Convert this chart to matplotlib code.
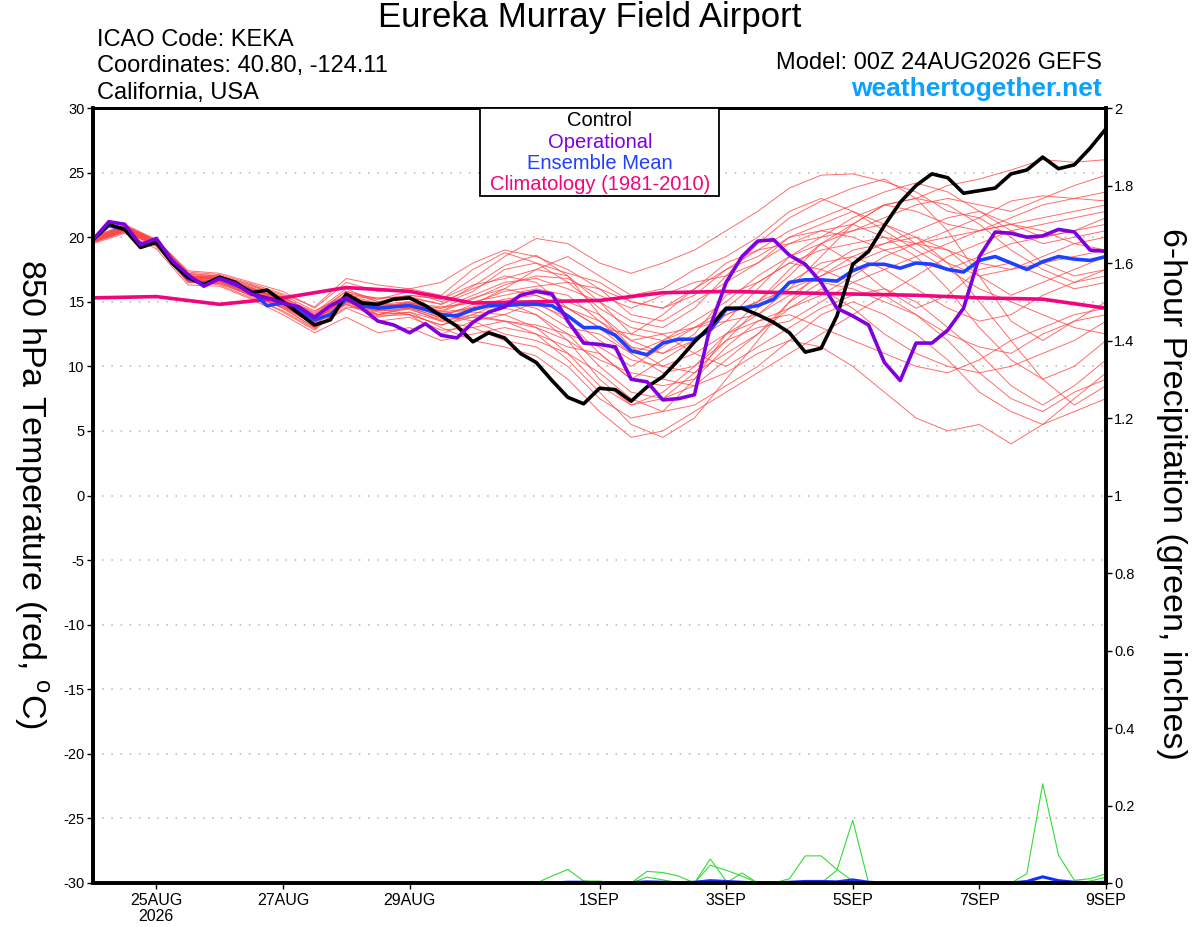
import numpy as np
import matplotlib
matplotlib.use("Agg")
import matplotlib.pyplot as plt
from matplotlib.patches import Rectangle

plt.rcParams['font.family'] = ['Liberation Sans', 'DejaVu Sans']
plt.rcParams['mathtext.fontset'] = 'custom'
plt.rcParams['mathtext.rm'] = 'Liberation Sans'

# ---------------- data ----------------
# 6-hourly steps from 00Z 24AUG2026 (index 0) to 00Z 09SEP2026 (index 64)
steps6 = list(range(65))
steps12 = list(range(0, 65, 2))
steps24 = list(range(0, 65, 4))

tick_steps = [4, 12, 20, 32, 40, 48, 56, 64]
tick_labels = ['25AUG\n2026', '27AUG', '29AUG', '1SEP', '3SEP', '5SEP', '7SEP', '9SEP']

temp_ticks = [-30, -25, -20, -15, -10, -5, 0, 5, 10, 15, 20, 25, 30]
precip_ticks = [0, 0.2, 0.4, 0.6, 0.8, 1.0, 1.2, 1.4, 1.6, 1.8, 2.0]
precip_tick_labels = ['0', '0.2', '0.4', '0.6', '0.8', '1', '1.2', '1.4', '1.6', '1.8', '2']

control = [19.8, 21.0, 20.6, 19.2, 19.6, 18.0, 16.9, 16.3, 16.9, 16.5, 15.7, 15.9, 15.0,
           14.1, 13.2, 13.6, 15.6, 14.9, 14.8, 15.2, 15.3, 14.7, 13.9, 13.1, 11.9, 12.6,
           12.2, 11.0, 10.3, 8.9, 7.6, 7.1, 8.3, 8.2, 7.3, 8.4, 9.2, 10.5, 11.9, 13.1,
           14.5, 14.5, 14.0, 13.4, 12.6, 11.1, 11.4, 13.9, 17.9, 18.9, 20.9, 22.7, 24.0,
           24.9, 24.6, 23.4, 23.6, 23.8, 24.9, 25.2, 26.2, 25.3, 25.6, 26.9, 28.4]

operational = [19.8, 21.2, 21.0, 19.4, 19.9, 18.2, 17.1, 16.2, 16.8, 16.4, 15.6, 15.3, 14.9,
               14.6, 13.8, 14.7, 15.3, 14.5, 13.5, 13.2, 12.6, 13.3, 12.4, 12.2, 13.4, 14.2,
               14.6, 15.5, 15.8, 15.6, 13.5, 11.8, 11.7, 11.5, 9.0, 8.8, 7.4, 7.5, 7.8, 13.1,
               16.5, 18.5, 19.7, 19.8, 18.6, 17.9, 16.5, 14.5, 13.9, 13.2, 10.3, 8.9, 11.8,
               11.8, 12.8, 14.5, 18.5, 20.4, 20.3, 20.0, 20.1, 20.6, 20.4, 19.0, 18.9]

ens_mean = [19.8, 20.9, 20.6, 19.5, 19.6, 18.0, 16.8, 16.4, 16.8, 16.3, 15.8, 14.7, 14.9,
            14.4, 13.6, 14.0, 15.2, 14.7, 14.5, 14.6, 14.7, 14.4, 14.0, 13.9, 14.4, 14.7,
            14.7, 14.8, 14.8, 14.7, 13.9, 13.0, 13.0, 12.4, 11.2, 10.9, 11.8, 12.1, 12.1,
            12.8, 14.4, 14.5, 14.7, 15.2, 16.5, 16.7, 16.7, 16.6, 17.4, 17.9, 17.9, 17.6,
            18.0, 17.9, 17.5, 17.3, 18.2, 18.5, 18.0, 17.5, 18.1, 18.5, 18.3, 18.2, 18.5]

climatology = [15.3, 15.4, 14.8, 15.3, 16.1, 15.8, 14.9, 15.0, 15.1, 15.7, 15.8, 15.7,
               15.6, 15.5, 15.3, 15.2, 14.5]

# 12-hourly ensemble members (850 hPa temperature, C)
member_01 = [19.9, 20.9, 19.6, 17.0, 16.9, 16.2, 15.4, 14.0, 15.8, 15.0, 15.5, 15.2, 16.8, 18.5, 19.9, 19.5, 18.0, 17.2, 18.0, 19.0, 20.5, 22.0, 23.8, 24.8, 24.9, 24.3, 23.5, 22.0, 21.5, 22.8, 23.2, 23.0, 22.8]
member_02 = [19.7, 20.5, 19.3, 16.6, 16.5, 15.6, 14.5, 13.0, 14.8, 13.8, 14.2, 13.0, 12.0, 11.5, 10.8, 9.0, 6.5, 4.5, 5.0, 6.5, 8.0, 9.5, 11.0, 12.5, 14.0, 15.5, 17.0, 18.5, 19.5, 20.5, 21.0, 21.5, 22.0]
member_03 = [19.8, 20.7, 19.7, 17.2, 16.8, 16.0, 15.2, 13.8, 15.4, 14.6, 14.8, 14.5, 15.5, 16.5, 16.8, 16.0, 15.0, 13.5, 13.0, 14.5, 17.0, 19.5, 21.5, 22.8, 23.8, 24.5, 23.0, 20.5, 17.0, 13.5, 12.0, 13.5, 15.0]
member_04 = [19.6, 20.4, 19.4, 16.5, 16.6, 15.4, 14.2, 12.8, 15.0, 14.2, 14.0, 12.5, 13.5, 14.0, 15.0, 13.5, 11.0, 9.0, 10.5, 12.0, 14.0, 15.0, 17.5, 19.5, 21.0, 22.5, 23.0, 24.0, 24.5, 25.2, 26.0, 25.8, 26.0]
member_05 = [20.0, 21.0, 19.8, 17.4, 17.2, 16.5, 15.8, 14.5, 16.5, 15.8, 16.0, 15.5, 17.5, 18.8, 18.0, 16.5, 14.5, 13.0, 12.5, 11.0, 10.0, 11.5, 13.0, 14.5, 15.5, 16.0, 15.0, 13.0, 11.0, 8.5, 7.0, 8.5, 10.5]
member_06 = [19.5, 20.3, 19.1, 16.3, 16.2, 15.2, 14.0, 12.6, 13.8, 12.6, 13.0, 12.0, 12.5, 13.0, 12.5, 10.5, 8.0, 5.5, 4.5, 6.0, 9.0, 12.0, 15.0, 17.5, 19.0, 19.5, 20.0, 19.0, 18.0, 17.5, 18.0, 18.5, 19.0]
member_07 = [19.8, 20.6, 19.5, 16.9, 17.0, 16.0, 15.0, 13.5, 15.5, 14.0, 14.5, 13.8, 14.8, 16.0, 17.5, 18.5, 17.0, 15.5, 16.0, 17.5, 18.5, 20.0, 22.0, 23.0, 22.0, 20.5, 19.0, 17.5, 16.0, 15.0, 14.0, 13.0, 12.5]
member_08 = [19.9, 20.8, 19.6, 16.8, 16.8, 16.0, 15.3, 14.2, 16.0, 15.0, 15.2, 14.0, 13.5, 12.5, 12.0, 11.0, 9.5, 7.5, 6.5, 7.0, 8.5, 10.0, 12.0, 14.0, 15.0, 14.0, 12.5, 10.5, 8.0, 6.5, 5.5, 7.5, 9.5]
member_09 = [19.7, 20.5, 19.4, 16.7, 16.4, 15.5, 14.6, 13.2, 15.0, 14.5, 14.0, 13.2, 14.0, 15.0, 14.5, 13.0, 12.5, 11.0, 12.0, 13.5, 15.0, 17.0, 18.5, 20.0, 21.5, 22.5, 22.0, 21.0, 20.5, 21.5, 22.5, 23.0, 23.5]
member_10 = [19.8, 20.7, 19.5, 16.9, 16.7, 16.0, 15.1, 13.8, 14.8, 14.0, 14.6, 14.5, 15.0, 15.5, 16.0, 15.5, 13.5, 11.5, 10.0, 9.5, 11.0, 12.5, 14.5, 15.5, 17.0, 18.5, 19.5, 19.0, 17.0, 15.5, 16.5, 17.5, 18.5]
member_11 = [20.0, 20.9, 19.7, 17.1, 17.0, 16.3, 15.5, 14.3, 15.5, 15.2, 15.8, 15.0, 16.0, 17.0, 16.5, 14.5, 13.0, 12.5, 14.0, 16.0, 18.0, 19.0, 20.5, 21.5, 22.5, 23.5, 24.2, 23.5, 22.0, 20.5, 19.5, 20.0, 20.5]
member_12 = [19.6, 20.4, 19.3, 16.6, 16.3, 15.3, 14.3, 12.9, 14.5, 13.5, 13.8, 12.8, 13.0, 13.5, 13.0, 12.0, 10.5, 9.5, 9.0, 8.5, 9.5, 11.0, 12.0, 11.5, 10.0, 8.0, 6.0, 5.0, 5.5, 4.0, 5.5, 6.5, 7.5]
member_13 = [19.8, 20.6, 19.6, 16.8, 16.8, 15.9, 14.8, 13.5, 15.4, 14.8, 15.0, 14.2, 14.5, 15.0, 15.8, 15.0, 14.0, 12.0, 11.0, 12.5, 15.5, 16.5, 18.0, 17.5, 16.5, 17.5, 18.5, 19.5, 20.5, 21.0, 20.5, 19.5, 19.0]
member_14 = [19.9, 20.8, 19.8, 17.3, 17.1, 16.4, 15.6, 14.6, 16.8, 16.3, 16.0, 16.5, 18.0, 19.0, 18.5, 17.5, 16.0, 14.0, 13.5, 15.0, 16.5, 18.0, 20.0, 21.0, 22.0, 21.0, 19.5, 18.0, 17.0, 17.5, 18.5, 19.5, 20.0]
member_15 = [19.7, 20.5, 19.4, 16.7, 16.6, 15.6, 14.6, 13.3, 15.0, 14.0, 14.2, 13.5, 14.0, 13.5, 12.5, 11.5, 11.0, 9.0, 8.5, 9.0, 11.5, 13.5, 14.0, 13.0, 12.0, 11.0, 10.0, 9.5, 10.5, 12.0, 13.0, 14.0, 14.5]
member_16 = [19.8, 20.7, 19.6, 16.9, 16.9, 15.8, 14.9, 13.7, 15.2, 14.5, 15.0, 14.2, 15.2, 16.3, 17.0, 16.8, 15.5, 14.5, 15.5, 16.5, 17.0, 18.0, 19.5, 20.0, 20.5, 21.5, 22.5, 23.0, 22.5, 22.0, 23.0, 24.0, 24.8]
member_17 = [19.6, 20.5, 19.3, 16.5, 16.4, 15.5, 14.5, 13.0, 14.6, 14.3, 14.4, 13.6, 13.8, 14.5, 14.0, 12.5, 10.0, 8.0, 7.5, 8.5, 10.5, 12.5, 15.0, 16.5, 16.0, 15.0, 14.0, 12.0, 9.5, 7.5, 6.5, 8.0, 9.0]
member_18 = [19.9, 20.8, 19.7, 17.0, 16.9, 16.1, 15.2, 13.9, 15.6, 15.3, 15.4, 14.8, 15.8, 17.5, 18.0, 17.2, 16.5, 15.0, 14.5, 16.0, 17.5, 18.5, 20.0, 20.5, 20.0, 19.0, 18.0, 17.5, 18.5, 19.5, 20.0, 20.5, 21.0]
member_19 = [19.7, 20.6, 19.5, 16.8, 16.6, 15.7, 14.7, 13.4, 15.1, 14.7, 14.6, 13.7, 14.5, 15.0, 14.0, 12.0, 9.0, 7.0, 7.5, 9.5, 12.0, 14.5, 16.5, 18.0, 18.5, 17.5, 16.0, 14.5, 13.5, 14.0, 15.5, 16.5, 17.0]
member_20 = [19.8, 20.7, 19.6, 16.9, 16.8, 16.0, 15.0, 13.6, 15.3, 14.4, 14.9, 14.0, 14.6, 15.2, 15.5, 14.5, 13.5, 12.0, 12.5, 13.0, 14.0, 15.0, 16.0, 17.0, 18.0, 19.0, 19.5, 20.0, 20.5, 21.0, 21.5, 22.0, 22.5]
member_21 = [19.8, 20.8, 19.6, 16.9, 16.9, 16.1, 15.1, 13.9, 15.5, 14.9, 15.3, 14.8, 16.2, 17.8, 18.6, 17.0, 14.0, 11.5, 11.0, 12.0, 13.5, 16.0, 18.5, 19.5, 18.0, 16.0, 14.5, 15.5, 17.5, 18.0, 17.0, 16.0, 16.5]
member_22 = [19.7, 20.6, 19.4, 16.7, 16.6, 15.7, 14.8, 13.4, 15.0, 14.3, 14.5, 13.5, 13.0, 12.0, 11.5, 10.0, 7.5, 6.0, 6.5, 9.0, 12.5, 15.0, 17.0, 19.5, 20.5, 21.0, 20.0, 18.0, 15.0, 12.0, 9.0, 7.0, 8.5]
member_23 = [19.8, 20.7, 19.5, 16.8, 16.7, 15.9, 15.0, 13.6, 15.2, 14.6, 14.8, 14.3, 15.3, 16.0, 15.5, 14.5, 13.0, 11.0, 9.5, 10.0, 12.5, 14.0, 16.0, 18.5, 21.0, 22.5, 23.0, 22.5, 21.0, 19.0, 17.5, 16.5, 17.5]
member_24 = [19.9, 20.9, 19.8, 17.2, 17.0, 16.3, 15.3, 14.1, 15.8, 15.2, 15.5, 15.2, 16.3, 16.8, 17.5, 17.0, 15.0, 12.5, 12.0, 13.0, 14.5, 16.5, 18.0, 19.0, 19.5, 20.0, 18.5, 16.0, 13.0, 10.5, 9.0, 10.0, 12.0]
member_25 = [19.6, 20.5, 19.4, 16.6, 16.5, 15.6, 14.7, 13.2, 14.9, 13.9, 14.0, 13.2, 13.8, 13.5, 13.2, 12.5, 11.5, 10.0, 11.5, 13.0, 13.5, 14.0, 15.5, 17.0, 18.5, 19.5, 20.5, 21.5, 22.0, 21.0, 20.0, 20.5, 21.5]
member_26 = [19.8, 20.6, 19.5, 16.9, 16.8, 15.8, 14.9, 13.5, 15.3, 14.8, 14.7, 13.9, 14.2, 14.0, 13.0, 11.0, 8.5, 7.0, 8.0, 10.0, 12.0, 13.0, 13.5, 15.0, 16.5, 15.5, 14.0, 12.5, 11.5, 11.0, 12.5, 13.5, 14.0]
member_27 = [19.7, 20.6, 19.6, 16.8, 16.6, 15.8, 14.9, 13.7, 15.1, 14.6, 14.9, 14.6, 14.9, 15.8, 16.2, 16.5, 16.0, 15.0, 14.5, 15.5, 17.5, 19.0, 19.5, 20.5, 21.0, 20.0, 19.5, 20.5, 21.5, 20.0, 18.0, 17.0, 17.5]
member_28 = [19.9, 20.8, 19.7, 17.0, 16.8, 16.0, 15.2, 13.9, 15.4, 14.7, 14.9, 14.1, 14.4, 15.0, 14.8, 13.8, 12.0, 10.5, 10.0, 11.0, 12.5, 13.5, 14.5, 16.0, 14.5, 12.5, 11.0, 10.0, 9.5, 10.0, 11.0, 12.0, 13.5]

members = [member_01, member_02, member_03, member_04, member_05, member_06, member_07,
           member_08, member_09, member_10, member_11, member_12, member_13, member_14,
           member_15, member_16, member_17, member_18, member_19, member_20, member_21,
           member_22, member_23, member_24, member_25, member_26, member_27, member_28]

# 6-hour precipitation (inches) of the members that had any rain: (first step, values)
precip_rain_a = (28, [0.0, 0.018, 0.035, 0.005, 0.005, 0.0])
precip_rain_b = (34, [0.0, 0.030, 0.027, 0.018, 0.0, 0.062, 0.005, 0.0])
precip_rain_c = (38, [0.0, 0.046, 0.033, 0.018, 0.0])
precip_rain_d = (40, [0.0, 0.026, 0.0])
precip_rain_e = (34, [0.0, 0.015, 0.008, 0.0])
precip_rain_f = (43, [0.0, 0.011, 0.070, 0.070, 0.035, 0.005, 0.0])
precip_rain_g = (46, [0.0, 0.033, 0.162, 0.0])
precip_rain_h = (58, [0.0, 0.024, 0.256, 0.072, 0.007, 0.011, 0.024])
precip_rain_i = (62, [0.0, 0.005, 0.015])
precip_segments = [precip_rain_a, precip_rain_b, precip_rain_c, precip_rain_d, precip_rain_e,
                   precip_rain_f, precip_rain_g, precip_rain_h, precip_rain_i]

precip_mean = [0.0] * 30 + [0.002, 0.002, 0.0, 0.0, 0.001, 0.003, 0.002, 0.001, 0.002, 0.006,
                            0.004, 0.002, 0.0, 0.0, 0.002, 0.004, 0.004, 0.003, 0.008, 0.002,
                            0.0, 0.0, 0.0, 0.0, 0.0, 0.0, 0.0, 0.0, 0.0, 0.004, 0.016, 0.006,
                            0.002, 0.001, 0.002]

# ---------------- figure ----------------
W, H = 1200, 927
fig = plt.figure(figsize=(W / 100, H / 100), dpi=100)
ax = fig.add_axes([93 / W, 1 - 883 / H, (1106 - 93) / W, (883 - 108) / H])
ax2 = ax.twinx()

ax.set_xlim(0, 64)
ax.set_ylim(-30, 30)
ax2.set_ylim(0, 2)

# grid
for v in temp_ticks[1:-1]:
    ax.axhline(v, color='#b4b4b4', lw=1.1, ls=(0, (1, 5)), zorder=0)

# ensemble members
for m in members:
    ax.plot(steps12, m, color='#ff4848', lw=0.7, alpha=0.8, zorder=2)

ax.plot(steps24, climatology, color='#f0057f', lw=2.6, zorder=4)
ax.plot(steps6, ens_mean, color='#2040ff', lw=2.6, zorder=5)
ax.plot(steps6, control, color='black', lw=2.6, zorder=6)
ax.plot(steps6, operational, color='#8000dd', lw=2.6, zorder=7)

# precipitation
for start, vals in precip_segments:
    xs = list(range(start, start + len(vals)))
    ax2.plot(xs, vals, color='#33dd33', lw=0.8, zorder=1)
ax2.plot(steps6, precip_mean, color='#1030ff', lw=2.2, zorder=1.5)

# axes styling
for a in (ax, ax2):
    for s in a.spines.values():
        s.set_linewidth(2.6)
        s.set_color('black')
        s.set_zorder(3)
ax.spines['top'].set_linewidth(2.0)
ax2.spines['top'].set_linewidth(2.0)

ax.set_yticks(temp_ticks)
ax.set_yticklabels([str(t) for t in temp_ticks])
ax.tick_params(axis='y', direction='out', length=4, width=1, labelsize=10.5, pad=2)
ax.set_xticks(tick_steps)
ax.set_xticklabels(tick_labels, linespacing=1.1)
ax.tick_params(axis='x', direction='out', length=4, width=1, labelsize=11.5, pad=3)

ax2.set_yticks(precip_ticks)
ax2.set_yticklabels(precip_tick_labels)
ax2.tick_params(axis='y', direction='out', length=4, width=1, labelsize=10.5, pad=2)

# titles and annotations
fig.text(590 / W, 1 - 18 / H, 'Eureka Murray Field Airport', ha='center', va='center', fontsize=25)
fig.text(97 / W, 1 - 40 / H, 'ICAO Code: KEKA', ha='left', va='center', fontsize=17)
fig.text(97 / W, 1 - 66 / H, 'Coordinates: 40.80, -124.11', ha='left', va='center', fontsize=17)
fig.text(97 / W, 1 - 93 / H, 'California, USA', ha='left', va='center', fontsize=17)
fig.text(1102 / W, 1 - 63 / H, 'Model: 00Z 24AUG2026 GEFS', ha='right', va='center', fontsize=17)
fig.text(1102 / W, 1 - 89 / H, 'weathertogether.net', ha='right', va='center', fontsize=19,
         fontweight='bold', color='#0aa2ff')

fig.text(31 / W, 1 - 494 / H, '850 hPa Temperature (red, $^{\\mathrm{o}}$C)', rotation=270,
         ha='center', va='center', fontsize=24.5)
fig.text(1172 / W, 1 - 494 / H, '6-hour Precipitation (green, inches)', rotation=270,
         ha='center', va='center', fontsize=24.5)

# legend box
fig.add_artist(Rectangle((480 / W, 1 - 196 / H), (719 - 480) / W, (196 - 108) / H,
                         transform=fig.transFigure, facecolor='white', edgecolor='black',
                         lw=1.3, zorder=10))
leg_items = [('Control', 'black'), ('Operational', '#8000dd'),
             ('Ensemble Mean', '#2040ff'), ('Climatology (1981-2010)', '#f0057f')]
for k, (txt, col) in enumerate(leg_items):
    fig.text(600 / W, 1 - (121 + 21.3 * k) / H, txt, ha='center', va='center',
             fontsize=14.5, color=col, zorder=11)

fig.savefig('out.png', dpi=100)
